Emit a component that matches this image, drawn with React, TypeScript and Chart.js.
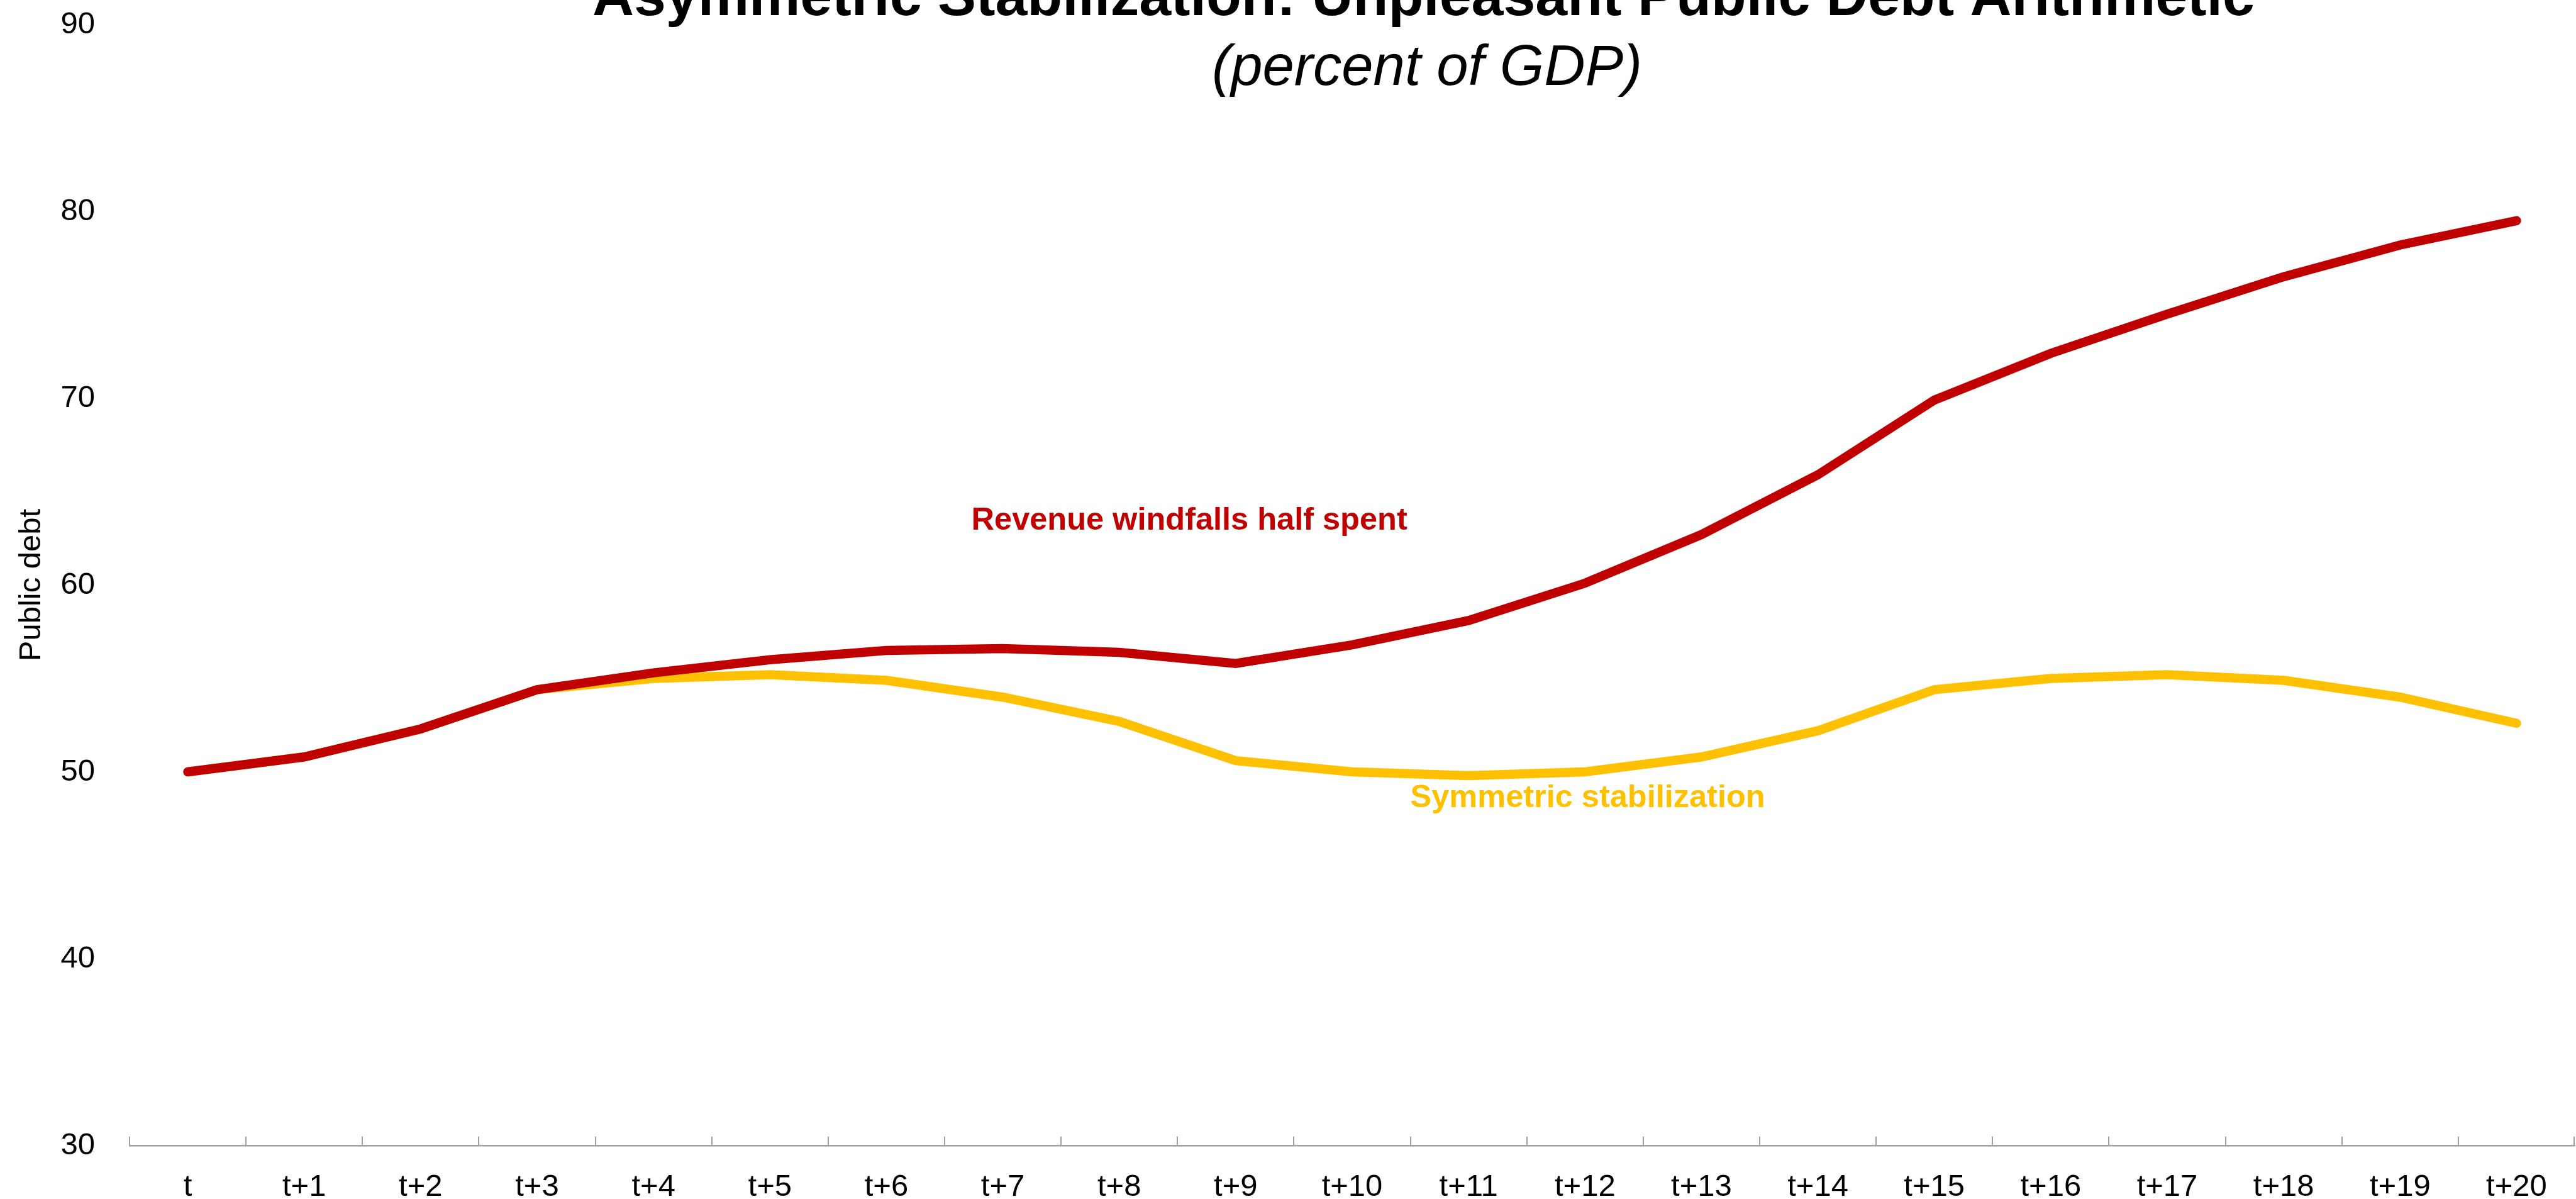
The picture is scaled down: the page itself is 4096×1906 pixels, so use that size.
import React, { useEffect, useRef } from 'react';
import { Chart, registerables } from 'chart.js';

Chart.register(...registerables);

// ---- data ----
const categories = ['t', 't+1', 't+2', 't+3', 't+4', 't+5', 't+6', 't+7', 't+8', 't+9', 't+10',
  't+11', 't+12', 't+13', 't+14', 't+15', 't+16', 't+17', 't+18', 't+19', 't+20'];
const revenueWindfallsHalfSpent = [50.0, 50.8, 52.3, 54.4, 55.3, 56.0, 56.5, 56.6, 56.4, 55.8, 56.8,
  58.1, 60.1, 62.7, 65.9, 69.9, 72.4, 74.5, 76.5, 78.2, 79.5];
const symmetricStabilization = [50.0, 50.8, 52.3, 54.4, 55.0, 55.2, 54.9, 54.0, 52.7, 50.6, 50.0,
  49.8, 50.0, 50.8, 52.2, 54.4, 55.0, 55.2, 54.9, 54.0, 52.6];
const seriesNames = ['Revenue windfalls half spent', 'Symmetric stabilization'];
const yMin = 30;
const yMax = 90;
const yStep = 10;
const titleText = 'Asymmetric Stabilization: Unpleasant Public Debt Arithmetic';
const subtitleText = '(percent of GDP)';
const yAxisTitle = 'Public debt';

// ---- style ----
const S = 0.953;
const FONT = "'Liberation Sans', Arial, Helvetica, sans-serif";
const RED = '#C00000';
const YELLOW = '#FFC000';
const AXIS_GRAY = '#A0A0A0';

// annotation anchors: [category position, value at baseline] for left edge of text
const labelAnchors = [
  { text: seriesNames[0], cat: 6.73, val: 62.95, color: RED, size: 50.5 },
  { text: seriesNames[1], cat: 10.5, val: 48.1, color: YELLOW, size: 50.5 },
];

const titlePlugin = {
  id: 'customTitles',
  afterDraw(chart: any) {
    const ctx = chart.ctx;
    const w = chart.width;
    ctx.save();
    ctx.fillStyle = '#000000';
    ctx.textAlign = 'center';
    ctx.textBaseline = 'alphabetic';
    ctx.font = `bold ${96 * S}px ${FONT}`;
    ctx.fillText(titleText, w * (2375 / 4298), 25 * S);
    ctx.font = `italic ${95 * S}px ${FONT}`;
    ctx.fillText(subtitleText, w * (2381 / 4298), 142 * S);
    ctx.restore();
  },
};

const annotationPlugin = {
  id: 'seriesLabels',
  afterDatasetsDraw(chart: any) {
    const ctx = chart.ctx;
    const xs = chart.scales.x;
    const ys = chart.scales.y;
    ctx.save();
    ctx.textAlign = 'left';
    ctx.textBaseline = 'alphabetic';
    for (const a of labelAnchors) {
      ctx.font = `bold ${a.size}px ${FONT}`;
      ctx.fillStyle = a.color;
      ctx.fillText(a.text, xs.getPixelForValue(a.cat), ys.getPixelForValue(a.val));
    }
    ctx.restore();
  },
};

const innerTicksPlugin = {
  id: 'innerTicks',
  afterDraw(chart: any) {
    const ctx = chart.ctx;
    const xs = chart.scales.x;
    const bottom = chart.chartArea.bottom;
    ctx.save();
    ctx.strokeStyle = AXIS_GRAY;
    ctx.lineWidth = 2;
    for (let i = 0; i <= categories.length; i++) {
      let px = Math.round(xs.getPixelForValue(i - 0.5));
      if (i === categories.length) px -= 1;
      ctx.beginPath();
      ctx.moveTo(px, bottom);
      ctx.lineTo(px, bottom - 15 * S);
      ctx.stroke();
    }
    ctx.restore();
  },
};

export default function App() {
  const canvasRef = useRef<HTMLCanvasElement | null>(null);

  useEffect(() => {
    if (!canvasRef.current) return;
    const chart = new Chart(canvasRef.current, {
      type: 'line',
      data: {
        labels: categories,
        datasets: [
          {
            label: seriesNames[0],
            data: revenueWindfallsHalfSpent,
            borderColor: RED,
            backgroundColor: RED,
            borderWidth: 14.5,
            borderCapStyle: 'round',
            borderJoinStyle: 'miter',
            pointRadius: 0,
            tension: 0,
            order: 0,
          },
          {
            label: seriesNames[1],
            data: symmetricStabilization,
            borderColor: YELLOW,
            backgroundColor: YELLOW,
            borderWidth: 14.5,
            borderCapStyle: 'round',
            borderJoinStyle: 'miter',
            pointRadius: 0,
            tension: 0,
            order: 1,
          },
        ],
      },
      options: {
        animation: false,
        responsive: true,
        maintainAspectRatio: false,
        devicePixelRatio: 1,
        layout: { padding: { left: 0, right: 2, top: 39, bottom: 0 } },
        plugins: {
          legend: { display: false },
          title: { display: false },
          tooltip: { enabled: false },
        },
        scales: {
          x: {
            type: 'category',
            offset: true,
            grid: { display: false },
            border: { display: true, color: AXIS_GRAY, width: 2.5 },
            ticks: {
              color: '#000000',
              font: { family: FONT, size: 49 },
              padding: 29,
              maxRotation: 0,
              autoSkip: false,
            },
            afterFit: (s: any) => { s.height = 85; },
          },
          y: {
            min: yMin,
            max: yMax,
            grid: { display: false },
            border: { display: false },
            ticks: {
              stepSize: yStep,
              color: '#000000',
              font: { family: FONT, size: 49 },
              padding: 47,
            },
            title: {
              display: true,
              text: yAxisTitle,
              color: '#000000',
              font: { family: FONT, size: 49 },
              padding: { top: 21, bottom: 0 },
            },
            afterFit: (s: any) => {
              s.width = 206;
              s.paddingTop = 0;
              s.paddingBottom = 0;
            },
          },
        },
      },
      plugins: [innerTicksPlugin, annotationPlugin, titlePlugin],
    });
    return () => chart.destroy();
  }, []);

  return (
    <div style={{ position: 'fixed', left: 0, top: 0, width: '100vw', height: '100vh', background: '#ffffff' }}>
      <canvas ref={canvasRef} />
    </div>
  );
}
